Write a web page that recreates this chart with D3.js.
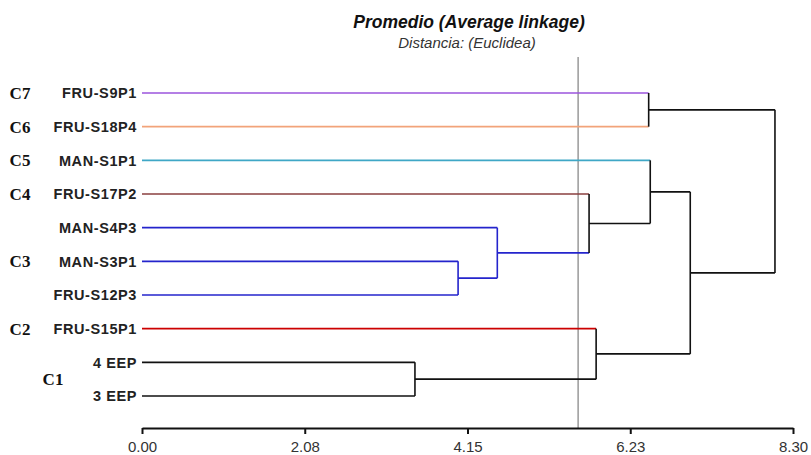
<!DOCTYPE html>
<html lang="es">
<head>
<meta charset="utf-8">
<script src="https://cdn.jsdelivr.net/npm/d3@7"></script>
<style>
    body { margin: 0; background: #fff; }
    svg { display: block; }
</style>
</head>
<body>
<div id="dendrogram"></div>
<script>
    // leaves, top to bottom
    const leaves = ['FRU-S9P1', 'FRU-S18P4', 'MAN-S1P1', 'FRU-S17P2', 'MAN-S4P3',
        'MAN-S3P1', 'FRU-S12P3', 'FRU-S15P1', '4 EEP', '3 EEP'];
    const leafColors = ['#9b55dc', '#f2a37a', '#3fa7c6', '#8a3f3f', '#2424cc',
        '#2424cc', '#2424cc', '#cc0000', '#111', '#111'];
    // group labels: [text, row index (can be fractional)]
    const groupLabels = [['C7', 0], ['C6', 1], ['C5', 2], ['C4', 3], ['C3', 5], ['C2', 7], ['C1', 8.5]];
    // merges: [left, right, height]; numbers >= leaves.length refer to earlier merges
    const merges = [
        [8, 9, 3.48],
        [5, 6, 4.03],
        [4, 11, 4.53],
        [3, 12, 5.70],
        [7, 10, 5.79],
        [0, 1, 6.46],
        [2, 13, 6.48],
        [16, 14, 6.99],
        [15, 17, 8.07]
    ];
    const cutoff = 5.56;
    const ticks = [0, 2.075, 4.15, 6.225, 8.30];
    const tickLabels = ['0.00', '2.08', '4.15', '6.23', '8.30'];

    (() => {
        const width = 811, height = 455;
        const svg = d3.select('#dendrogram').append('svg')
            .attr('width', width).attr('height', height);

        const x = d3.scaleLinear().domain([0, 8.30]).range([142, 793]);
        const y = d3.scalePoint().domain(d3.range(leaves.length)).range([93, 396]);
        const axisY = 428;

        // build nodes
        const nodes = leaves.map((name, i) => ({name, h: 0, y: y(i), color: leafColors[i]}));
        for (let [a, b, h] of merges) {
            const l = nodes[a], r = nodes[b];
            const color = l.color === r.color ? l.color : '#111';
            const n = {h, y: (l.y + r.y) / 2, color, children: [l, r]};
            l.parent = n;
            r.parent = n;
            nodes.push(n);
        }

        // title
        svg.append('text')
            .attr('x', 469).attr('y', 28)
            .attr('text-anchor', 'middle')
            .style('font', 'italic bold 17.5px "Liberation Sans", Arial, sans-serif')
            .attr('fill', '#111')
            .text('Promedio (Average linkage)');
        svg.append('text')
            .attr('x', 467).attr('y', 48)
            .attr('text-anchor', 'middle')
            .style('font', 'italic 15px "Liberation Sans", Arial, sans-serif')
            .attr('fill', '#333')
            .text('Distancia: (Euclidea)');

        // cut line
        svg.append('line')
            .attr('x1', x(cutoff)).attr('x2', x(cutoff))
            .attr('y1', 57).attr('y2', axisY)
            .attr('stroke', '#666').attr('stroke-width', 1);

        const g = svg.append('g').attr('fill', 'none').attr('stroke-width', 1.6);

        // horizontal segments: each node to its parent
        g.selectAll('line.h')
            .data(nodes.filter(n => n.parent))
            .enter().append('line')
            .attr('class', 'h')
            .attr('x1', d => x(d.h)).attr('x2', d => x(d.parent.h))
            .attr('y1', d => d.y).attr('y2', d => d.y)
            .attr('stroke', d => d.color);

        // vertical segments at each merge
        g.selectAll('line.v')
            .data(nodes.filter(n => n.children))
            .enter().append('line')
            .attr('class', 'v')
            .attr('x1', d => x(d.h)).attr('x2', d => x(d.h))
            .attr('y1', d => d.children[0].y).attr('y2', d => d.children[1].y)
            .attr('stroke', d => d.color);

        // leaf labels
        svg.append('g').selectAll('text')
            .data(leaves)
            .enter().append('text')
            .attr('x', 137).attr('y', (d, i) => y(i))
            .attr('dy', '0.36em')
            .attr('text-anchor', 'end')
            .style('font', 'bold 14.5px "Liberation Sans", Arial, sans-serif')
            .style('letter-spacing', '0.6px')
            .attr('fill', '#222')
            .text(d => d);

        // group labels
        const rowY = d3.scaleLinear().domain([0, leaves.length - 1]).range(y.range());
        svg.append('g').selectAll('text')
            .data(groupLabels)
            .enter().append('text')
            .attr('x', d => d[0] === 'C1' ? 53 : 20).attr('y', d => rowY(d[1]))
            .attr('dy', '0.36em')
            .attr('text-anchor', 'middle')
            .style('font', 'bold 17px "Liberation Serif", "Times New Roman", serif')
            .attr('fill', '#111')
            .text(d => d[0]);

        // axis
        const axis = svg.append('g')
            .attr('transform', `translate(0,${axisY})`)
            .call(d3.axisBottom(x).tickValues(ticks).tickSize(6).tickSizeOuter(0)
                .tickFormat((d, i) => tickLabels[i]));
        axis.select('.domain').attr('stroke', '#111').attr('stroke-width', 2.2);
        axis.selectAll('.tick line').attr('stroke', '#111').attr('stroke-width', 2);
        axis.selectAll('.tick text')
            .attr('y', 13)
            .style('font', '15px "Liberation Sans", Arial, sans-serif')
            .attr('fill', '#333');
    })();
</script>
</body>
</html>
